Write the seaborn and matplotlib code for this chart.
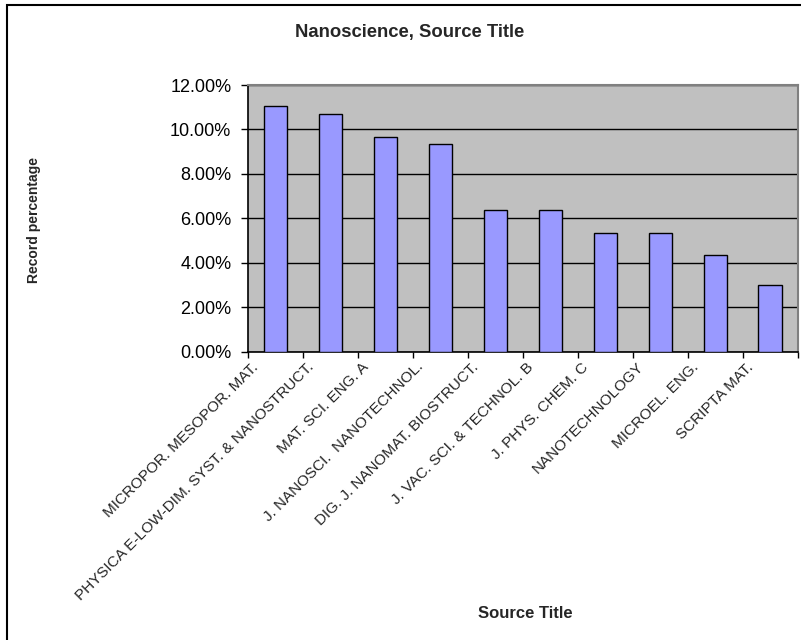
import matplotlib
matplotlib.use("Agg")
import matplotlib.pyplot as plt
import matplotlib.transforms as mtransforms
from matplotlib.patches import Rectangle
from matplotlib.ticker import FixedLocator, FuncFormatter
import seaborn as sns


# Chart data (record percentage per source title)
SOURCE_TITLES = [
    "MICROPOR. MESOPOR. MAT.",
    "PHYSICA E-LOW-DIM. SYST. & NANOSTRUCT.",
    "MAT. SCI. ENG. A",
    "J. NANOSCI.  NANOTECHNOL.",
    "DIG. J. NANOMAT. BIOSTRUCT.",
    "J. VAC. SCI. & TECHNOL. B",
    "J. PHYS. CHEM. C",
    "NANOTECHNOLOGY",
    "MICROEL. ENG.",
    "SCRIPTA MAT.",
]
RECORD_PCT = [11.04, 10.68, 9.68, 9.35, 6.37, 6.37, 5.32, 5.32, 4.33, 2.98]
Y_TICKS = [0, 2, 4, 6, 8, 10, 12]

# Styling
BAR_COLOR = "#9999FF"
PLOT_BG = "#C0C0C0"
FONT = ["Liberation Sans", "DejaVu Sans"]


def draw_chart():
    sns.set_theme(style="white")
    plt.rcParams["font.family"] = FONT

    fig = plt.figure(figsize=(8.01, 6.40), dpi=100)
    ax = fig.add_axes([248 / 801, 1 - 351.5 / 640, 549.5 / 801, 266.5 / 640])

    sns.barplot(
        x=SOURCE_TITLES,
        y=RECORD_PCT,
        color=BAR_COLOR,
        saturation=1,
        edgecolor="black",
        linewidth=1.0,
        width=0.42,
        ax=ax,
        zorder=3,
    )

    ax.set_facecolor(PLOT_BG)
    ax.set_xlim(-0.5, len(SOURCE_TITLES) - 0.5)
    ax.set_ylim(0, 12)

    # horizontal gridlines
    ax.yaxis.set_major_locator(FixedLocator(Y_TICKS))
    ax.yaxis.set_major_formatter(FuncFormatter(lambda v, p: f"{v:.2f}%"))
    ax.grid(axis="y", color="black", linewidth=1.0, zorder=1)
    ax.set_axisbelow(True)

    # spines
    for side in ["top", "right"]:
        ax.spines[side].set_color("#808080")
        ax.spines[side].set_linewidth(1.5)
    for side in ["left", "bottom"]:
        ax.spines[side].set_color("black")
        ax.spines[side].set_linewidth(1.2)

    # ticks: y outward, x ticks on category boundaries, labels on centres
    ax.tick_params(axis="y", direction="out", length=5, width=1, pad=7,
                   labelsize=13, colors="black", left=True)
    ax.set_xticks([i - 0.5 for i in range(len(SOURCE_TITLES) + 1)], minor=True)
    ax.tick_params(axis="x", which="minor", direction="out", length=4, width=1,
                   color="black", bottom=True)
    ax.tick_params(axis="x", which="major", length=0, pad=6, labelsize=11)
    for label in ax.get_xticklabels():
        label.set_rotation(45)
        label.set_ha("right")
        label.set_va("top")
        label.set_rotation_mode("anchor")
        offset = mtransforms.ScaledTranslation(-24 / 100, 0, fig.dpi_scale_trans)
        label.set_transform(label.get_transform() + offset)

    ax.set_xlabel("")
    ax.set_ylabel("")

    # titles
    fig.text(410 / 801, 1 - 32 / 640, "Nanoscience, Source Title",
             ha="center", va="center", fontsize=13.3, fontweight="bold")
    fig.text(525 / 801, 1 - 613 / 640, "Source Title",
             ha="center", va="center", fontsize=12, fontweight="bold")
    fig.text(34 / 801, 1 - 220 / 640, "Record percentage", rotation=90,
             ha="center", va="center", fontsize=10, fontweight="bold")

    # chart area border (cropped at right and bottom)
    fig.patches.append(Rectangle((7 / 801, -0.1), 1.2, (640 - 4.5) / 640 + 0.1,
                                 fill=False, edgecolor="black", linewidth=1.5,
                                 transform=fig.transFigure, figure=fig))

    fig.savefig("out.png", dpi=100)


if __name__ == "__main__":
    draw_chart()
